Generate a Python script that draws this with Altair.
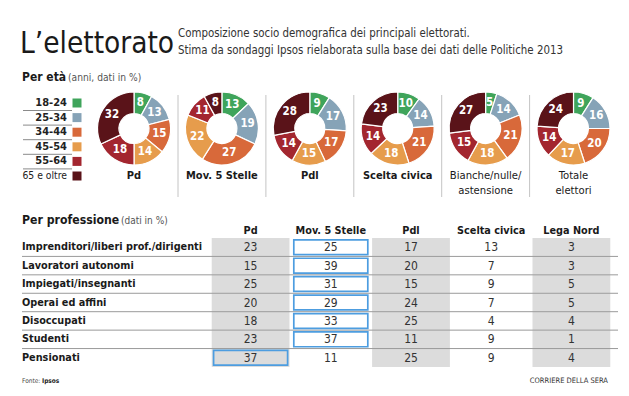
import altair as alt
import pandas as pd

FONT = "'DejaVu Sans Condensed', 'Liberation Sans', sans-serif"

# ---------------- data ----------------
title_text = "L\u2019elettorato"
subtitle_1 = "Composizione socio demografica dei principali elettorati."
subtitle_2 = "Stima da sondaggi Ipsos rielaborata sulla base dei dati delle Politiche 2013"
age_head = "Per et\u00e0"
age_sub = "(anni, dati in %)"
prof_head = "Per professione"
prof_sub = "(dati in %)"
source_a = "Fonte:"
source_b = "Ipsos"
credit = "CORRIERE DELLA SERA"

ages = ["18-24", "25-34", "34-44", "45-54", "55-64", "65 e oltre"]
age_colors = ["#3fa45b", "#86a3b7", "#d8693a", "#e69c4c", "#a3262f", "#5a1319"]

parties = ["Pd", "Mov. 5 Stelle", "Pdl", "Scelta civica", "Bianche/nulle/astensione", "Totale elettori"]
party_line1 = ["Pd", "Mov. 5 Stelle", "Pdl", "Scelta civica", "Bianche/nulle/", "Totale"]
party_line2 = ["", "", "", "", "astensione", "elettori"]
party_bold = [True, True, True, True, False, False]

age_pd = [8, 13, 15, 14, 18, 32]
age_m5s = [13, 19, 27, 22, 11, 8]
age_pdl = [9, 17, 17, 15, 14, 28]
age_sc = [10, 14, 21, 18, 14, 23]
age_bianche = [5, 14, 21, 18, 15, 27]
age_totale = [9, 16, 20, 17, 14, 24]

professions = [
    "Imprenditori/liberi prof./dirigenti",
    "Lavoratori autonomi",
    "Impiegati/insegnanti",
    "Operai ed affini",
    "Disoccupati",
    "Studenti",
    "Pensionati",
]
cols = ["Pd", "Mov. 5 Stelle", "Pdl", "Scelta civica", "Lega Nord"]
gray_cols = ["Pd", "Pdl", "Lega Nord"]
prof_pd = [23, 15, 25, 20, 18, 23, 37]
prof_m5s = [25, 39, 31, 29, 33, 37, 11]
prof_pdl = [17, 20, 15, 24, 25, 11, 25]
prof_sc = [13, 7, 9, 7, 4, 9, 9]
prof_ln = [3, 3, 5, 5, 4, 1, 4]

# ---------------- tables ----------------
age_series = [age_pd, age_m5s, age_pdl, age_sc, age_bianche, age_totale]
donut_df = pd.DataFrame(
    [
        {"party": p, "age": a, "k": k, "value": v}
        for p, vals in zip(parties, age_series)
        for k, (a, v) in enumerate(zip(ages, vals))
    ]
)
party_df = pd.DataFrame(
    {"party": parties, "l1": party_line1, "l2": party_line2, "bold": party_bold,
     "sep": [True] * 5 + [False]}
)
legend_df = pd.DataFrame({"age": ages, "k": list(range(len(ages)))})

prof_series = [prof_pd, prof_m5s, prof_pdl, prof_sc, prof_ln]
table_df = pd.DataFrame(
    [
        {"row": r, "col": c, "value": vals[i], "ri": i}
        for c, vals in zip(cols, prof_series)
        for i, r in enumerate(professions)
    ]
)
rows_df = pd.DataFrame({"row": professions, "ri": list(range(len(professions)))})
cols_df = pd.DataFrame({"col": cols})

# ---------------- donuts ----------------
x_party = alt.X("party:N", axis=None,
                scale=alt.Scale(type="point", domain=parties, range=[126, 565.5], padding=0))
theta_scale = alt.Scale(domain=[0, 100], range=[0, 6.283185307])
CY = 120.5

donut_base = alt.Chart(donut_df).transform_window(
    end="sum(value)", groupby=["party"], sort=[alt.SortField("k")]
).transform_calculate(start="datum.end - datum.value", mid="datum.end - datum.value / 2")

arcs = donut_base.mark_arc(innerRadius=15, outerRadius=36.5, stroke="white", strokeWidth=1.2).encode(
    x=x_party,
    y=alt.value(CY),
    theta=alt.Theta("start:Q", scale=theta_scale, stack=False),
    theta2="end:Q",
    color=alt.Color("age:N", scale=alt.Scale(domain=ages, range=age_colors), legend=None),
)
arc_labels = donut_base.mark_text(font=FONT, fontSize=11.5, fontWeight="bold", color="white",
                                  align="center", baseline="middle").encode(
    x=x_party,
    y=alt.value(CY),
    theta=alt.Theta("mid:Q", scale=theta_scale),
    radius=alt.value(26),
    text=alt.Text("value:Q", format="d"),
)
party_base = alt.Chart(party_df)
lab_bold = party_base.transform_filter("datum.bold").mark_text(
    font=FONT, fontSize=11, fontWeight="bold", color="#1a1a1a", baseline="middle").encode(
    x=x_party, y=alt.value(168), text="l1:N")
lab_reg = party_base.transform_filter("!datum.bold").mark_text(
    font=FONT, fontSize=11.2, color="#1a1a1a", baseline="middle").encode(
    x=x_party, y=alt.value(168), text="l1:N")
lab_2 = party_base.transform_filter("!datum.bold").mark_text(
    font=FONT, fontSize=11.2, color="#1a1a1a", baseline="middle").encode(
    x=x_party, y=alt.value(183), text="l2:N")
seps = party_base.transform_filter("datum.sep").mark_rule(
    color="#c4c4c4", strokeWidth=1, xOffset=44).encode(
    x=x_party, y=alt.value(87), y2=alt.value(189))

donuts = alt.layer(seps, arcs, arc_labels, lab_bold, lab_reg, lab_2)

# ---------------- age legend ----------------
y_age = alt.Y("age:N", axis=None,
              scale=alt.Scale(type="point", domain=ages, range=[95, 168], padding=0))
leg_base = alt.Chart(legend_df)
leg_lines = leg_base.transform_filter("datum.k < 5").mark_rule(
    color="#8a8a8a", strokeWidth=1, yOffset=7.5).encode(
    x=alt.value(15), x2=alt.value(64), y=y_age)
leg_sq = leg_base.mark_square(size=81, opacity=1).encode(
    x=alt.value(69), y=y_age,
    color=alt.Color("age:N", scale=alt.Scale(domain=ages, range=age_colors), legend=None))
leg_txt_b = leg_base.transform_filter("datum.k < 5").mark_text(
    font=FONT, fontSize=11, fontWeight="bold", color="#222", align="right", baseline="middle").encode(
    x=alt.value(59), y=y_age, text="age:N")
leg_txt_r = leg_base.transform_filter("datum.k == 5").mark_text(
    font=FONT, fontSize=10.3, color="#222", align="right", baseline="middle").encode(
    x=alt.value(59), y=y_age, text="age:N")
legend = alt.layer(leg_lines, leg_sq, leg_txt_b, leg_txt_r)

# ---------------- profession table ----------------
x_col = alt.X("col:N", axis=None,
              scale=alt.Scale(type="band", domain=cols, range=[202.5, 603.5],
                              paddingInner=0.03, paddingOuter=0.015))
y_row = alt.Y("row:N", axis=None,
              scale=alt.Scale(type="band", domain=professions, range=[230, 359],
                              paddingInner=0, paddingOuter=0))
tbl = alt.Chart(table_df)
bands = tbl.transform_filter(alt.FieldOneOfPredicate(field="col", oneOf=gray_cols)).mark_rect(
    color="#dcdcdc").encode(x=x_col, y=y_row)
row_lines = alt.Chart(rows_df).transform_filter("datum.ri < 6").mark_rule(
    color="#9a9a9a", strokeWidth=1, yOffset=9.2).encode(
    x=alt.value(14), x2=alt.value(610), y=y_row)
boxes = tbl.transform_joinaggregate(rmax="max(value)", groupby=["row"]).transform_filter(
    "datum.value == datum.rmax").mark_point(
    shape="M-1,-0.2H1V0.2H-1Z", size=5476, filled=False, color="#4d9de0",
    strokeWidth=1.7, opacity=1).encode(x=x_col, y=y_row)
row_labels = alt.Chart(rows_df).mark_text(
    font=FONT, fontSize=10.8, fontWeight="bold", color="#1a1a1a", align="left", baseline="middle").encode(
    x=alt.value(14), y=y_row, text="row:N")
col_heads = alt.Chart(cols_df).mark_text(
    font=FONT, fontSize=10.8, fontWeight="bold", color="#1a1a1a", baseline="middle").encode(
    x=x_col, y=alt.value(223), text="col:N")
cells = tbl.mark_text(font=FONT, fontSize=12, color="#333", baseline="middle").encode(
    x=x_col, y=y_row, text=alt.Text("value:Q", format="d"))
table = alt.layer(bands, row_lines, boxes, row_labels, col_heads, cells)


# ---------------- annotations ----------------
def note(txt, x, y, size, weight="normal", color="#1a1a1a", align="left"):
    return alt.Chart(pd.DataFrame({"t": [txt]})).mark_text(
        font=FONT, fontSize=size, fontWeight=weight, color=color, align=align,
        baseline="alphabetic").encode(x=alt.value(x), y=alt.value(y), text="t:N")


notes = [
    note(title_text, 12, 45, 29.5),
    note(subtitle_1, 170, 29, 11.4, color="#333"),
    note(subtitle_2, 170, 45.5, 11.4, color="#333"),
    note(age_head, 14, 73, 12, weight="bold"),
    note(age_sub, 60, 73, 10.2, color="#555"),
    note(prof_head, 14, 216, 12.2, weight="bold"),
    note(prof_sub, 113, 216, 10, color="#555"),
    note(source_a, 14, 375, 6.5, color="#444"),
    note(source_b, 34, 375, 6.5, weight="bold", color="#222"),
    note(credit, 600, 375, 7.5, color="#333", align="right"),
]

chart = alt.layer(donuts, legend, table, *notes).resolve_scale(
    x="independent", y="independent"
).properties(
    width=613, height=380, padding=0, autosize=alt.AutoSizeParams(type="none"),
    background="white",
).configure_view(stroke=None)

chart.save("out.html", embed_options={"renderer": "svg", "actions": False})
